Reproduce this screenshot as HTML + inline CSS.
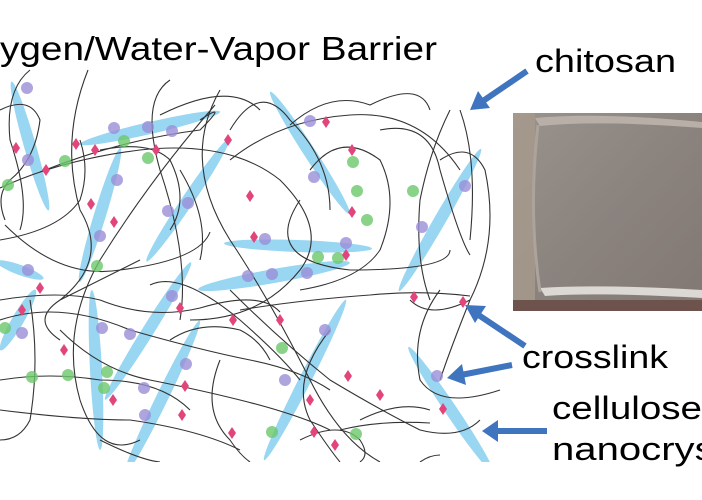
<!DOCTYPE html>
<html><head><meta charset="utf-8"><style>
html,body{margin:0;padding:0;background:#fff;width:702px;height:500px;overflow:hidden}
svg{display:block}
</style></head><body>
<svg width="702" height="500" viewBox="0 0 702 500" xmlns="http://www.w3.org/2000/svg">
<defs>
<linearGradient id="ph" x1="0" y1="0" x2="1" y2="1">
<stop offset="0" stop-color="#9a928c"/><stop offset="0.5" stop-color="#8b837e"/><stop offset="1" stop-color="#817873"/>
</linearGradient>
<clipPath id="cp"><rect x="0" y="60" width="510" height="402"/></clipPath>
<g id="dm"><path d="M0,-6 L4,0 L0,6 L-4,0Z" fill="#e2457c"/></g>
</defs>
<!-- photo -->
<rect x="513" y="113" width="189" height="198" fill="url(#ph)"/>
<rect x="513" y="113" width="22" height="198" fill="#a89a8c" opacity="0.8"/>
<path d="M535,118 Q600,112 702,122 L702,128 Q600,120 540,126Z" fill="#b8b0a8"/>
<path d="M540,288 Q600,284 702,290 L702,298 Q600,292 545,296Z" fill="#dcd8d4"/>
<rect x="513" y="300" width="189" height="11" fill="#6e534c"/>
<path d="M538,125 Q528,210 540,292" stroke="#aca49c" stroke-width="3" fill="none"/>

<g clip-path="url(#cp)">
<!-- cellulose nanocrystals -->
<g fill="#6cc4ec" opacity="0.7">
<ellipse cx="30" cy="146" rx="67" ry="6" transform="rotate(74 30 146)"/>
<ellipse cx="150" cy="128" rx="72" ry="6" transform="rotate(-13 150 128)"/>
<ellipse cx="310" cy="153" rx="73" ry="6" transform="rotate(57 310 153)"/>
<ellipse cx="100" cy="215" rx="70" ry="6" transform="rotate(-73 100 215)"/>
<ellipse cx="188" cy="200" rx="74" ry="6" transform="rotate(-56 188 200)"/>
<ellipse cx="298" cy="246" rx="74" ry="6" transform="rotate(2 298 246)"/>
<ellipse cx="274" cy="276" rx="77" ry="7" transform="rotate(-10 274 276)"/>
<ellipse cx="440" cy="220" rx="82" ry="6" transform="rotate(-60 440 220)"/>
<ellipse cx="20" cy="270" rx="25" ry="5" transform="rotate(20 20 270)"/>
<ellipse cx="96" cy="370" rx="80" ry="6" transform="rotate(87 96 370)"/>
<ellipse cx="148" cy="331" rx="81" ry="6" transform="rotate(-58 148 331)"/>
<ellipse cx="18" cy="320" rx="35" ry="6" transform="rotate(-60 18 320)"/>
<ellipse cx="162" cy="398" rx="86" ry="6" transform="rotate(-64 162 398)"/>
<ellipse cx="305" cy="380" rx="90" ry="6" transform="rotate(-63 305 380)"/>
<ellipse cx="451" cy="410" rx="76" ry="6" transform="rotate(56 451 410)"/>
</g>

<!-- chitosan chains -->
<g stroke="#333" stroke-width="1.1" fill="none">
<path d="M0,110 Q30,95 40,120 Q35,160 10,180 Q-5,195 5,220"/>
<path d="M0,188 Q60,160 140,150 Q230,140 280,180 Q330,230 300,270 Q260,320 190,320"/>
<path d="M30,70 Q5,90 10,140 Q30,200 20,230"/>
<path d="M40,172 Q120,140 200,130 Q230,100 200,120"/>
<path d="M170,80 Q140,100 160,170 Q190,260 180,320"/>
<path d="M88,70 Q60,140 80,210 Q110,260 60,300"/>
<path d="M0,240 Q60,230 80,200 Q90,170 80,140"/>
<path d="M220,90 Q180,160 230,240 Q270,300 310,380 Q340,440 380,462"/>
<path d="M160,115 Q230,80 260,110"/>
<path d="M215,105 Q150,180 100,260 Q60,330 80,400 Q100,460 140,440"/>
<path d="M230,130 Q260,80 290,120 Q330,160 330,210"/>
<path d="M5,225 Q60,280 120,270 Q200,260 210,232"/>
<path d="M230,160 Q280,120 350,115 Q420,110 460,170"/>
<path d="M310,170 Q340,130 380,160 Q400,200 380,250 Q360,280 300,290"/>
<path d="M300,200 Q260,260 350,270 Q450,270 450,250"/>
<path d="M290,125 Q330,90 370,105 Q420,80 430,110"/>
<path d="M380,130 Q430,120 440,170 Q460,240 470,255"/>
<path d="M450,110 Q430,150 420,200 Q415,260 430,300"/>
<path d="M440,160 Q470,140 485,170 Q500,240 470,300 Q450,350 440,380"/>
<path d="M460,110 Q478,160 470,240"/>
<path d="M0,300 Q60,290 100,300 Q150,320 200,308 Q260,290 280,312"/>
<path d="M150,285 Q180,270 240,320 Q280,355 300,380"/>
<path d="M140,260 Q100,280 60,300 Q30,320 60,340"/>
<path d="M0,320 Q60,300 130,330 Q200,350 250,360 Q300,370 330,390"/>
<path d="M60,330 Q100,370 150,380 Q200,390 240,400 Q300,415 330,430"/>
<path d="M0,380 Q50,372 100,380 Q160,380 190,410"/>
<path d="M30,300 Q40,360 30,420 Q20,440 0,440"/>
<path d="M0,410 Q80,420 130,420 Q200,430 240,450"/>
<path d="M240,310 Q300,300 370,295 Q420,290 470,296"/>
<path d="M230,290 Q280,340 330,380 Q380,410 420,430 Q460,440 480,420"/>
<path d="M330,330 Q290,380 310,420 Q330,450 340,462"/>
<path d="M440,290 Q410,330 420,380 Q440,410 500,390"/>
<path d="M300,440 Q340,420 360,440 Q370,455 360,462"/>
<path d="M360,420 Q400,400 430,410"/>
<path d="M410,300 Q430,320 470,300"/>
<path d="M170,340 Q200,320 240,330 Q260,340 270,360"/>
<path d="M220,360 Q200,410 230,440 Q240,455 250,462"/>
<path d="M100,440 Q140,460 160,462"/>
<path d="M180,170 Q210,220 200,260"/>
<path d="M340,430 Q380,420 430,423"/>
<path d="M420,462 Q430,455 440,455"/>
<path d="M100,150 Q150,140 170,160 Q190,200 170,230"/>
</g>

<!-- beads -->
<g fill="#9a8fd8" opacity="0.8">
<circle cx="27" cy="88" r="6"/><circle cx="28" cy="160" r="6"/><circle cx="114" cy="128" r="6"/><circle cx="148" cy="127" r="6"/><circle cx="172" cy="131" r="6"/>
<circle cx="117" cy="180" r="6"/><circle cx="310" cy="121" r="6"/><circle cx="314" cy="177" r="6"/><circle cx="168" cy="211" r="6"/><circle cx="188" cy="203" r="6"/>
<circle cx="100" cy="236" r="6"/><circle cx="265" cy="239" r="6"/><circle cx="346" cy="243" r="6"/><circle cx="248" cy="276" r="6"/><circle cx="272" cy="274" r="6"/>
<circle cx="307" cy="273" r="6"/><circle cx="422" cy="227" r="6"/><circle cx="465" cy="186" r="6"/><circle cx="28" cy="270" r="6"/><circle cx="22" cy="333" r="6"/>
<circle cx="102" cy="328" r="6"/><circle cx="130" cy="334" r="6"/><circle cx="172" cy="296" r="6"/><circle cx="186" cy="364" r="6"/><circle cx="145" cy="415" r="6"/>
<circle cx="285" cy="380" r="6"/><circle cx="325" cy="330" r="6"/><circle cx="437" cy="376" r="6"/><circle cx="144" cy="388" r="6"/>
</g>
<g fill="#6cc86c" opacity="0.8">
<circle cx="8" cy="185" r="6"/><circle cx="65" cy="161" r="6"/><circle cx="124" cy="141" r="6"/><circle cx="148" cy="158" r="6"/><circle cx="97" cy="266" r="6"/>
<circle cx="353" cy="162" r="6"/><circle cx="357" cy="191" r="6"/><circle cx="367" cy="220" r="6"/><circle cx="413" cy="191" r="6"/><circle cx="318" cy="257" r="6"/><circle cx="338" cy="258" r="6"/>
<circle cx="5" cy="328" r="6"/><circle cx="32" cy="377" r="6"/><circle cx="68" cy="375" r="6"/><circle cx="107" cy="372" r="6"/><circle cx="104" cy="388" r="6"/>
<circle cx="282" cy="348" r="6"/><circle cx="272" cy="432" r="6"/><circle cx="356" cy="434" r="6"/>
</g>
<g>
<use href="#dm" x="16" y="148"/><use href="#dm" x="46" y="170"/><use href="#dm" x="76" y="144"/><use href="#dm" x="95" y="150"/><use href="#dm" x="156" y="150"/>
<use href="#dm" x="91" y="204"/><use href="#dm" x="114" y="222"/><use href="#dm" x="228" y="140"/><use href="#dm" x="326" y="122"/><use href="#dm" x="352" y="150"/>
<use href="#dm" x="250" y="196"/><use href="#dm" x="352" y="212"/><use href="#dm" x="254" y="237"/><use href="#dm" x="346" y="255"/><use href="#dm" x="40" y="288"/>
<use href="#dm" x="22" y="310"/><use href="#dm" x="64" y="350"/><use href="#dm" x="180" y="308"/><use href="#dm" x="233" y="320"/><use href="#dm" x="280" y="320"/>
<use href="#dm" x="348" y="376"/><use href="#dm" x="380" y="395"/><use href="#dm" x="414" y="297"/><use href="#dm" x="463" y="302"/><use href="#dm" x="443" y="409"/>
<use href="#dm" x="113" y="400"/><use href="#dm" x="185" y="386"/><use href="#dm" x="182" y="415"/><use href="#dm" x="314" y="432"/><use href="#dm" x="335" y="445"/>
<use href="#dm" x="310" y="400"/><use href="#dm" x="232" y="433"/>
</g>
</g>

<!-- arrows -->
<g stroke="#3f74bf" stroke-width="6" fill="#3f74bf">
<line x1="527" y1="71" x2="483" y2="101"/>
<line x1="525" y1="346" x2="477" y2="314"/>
<line x1="512" y1="365" x2="461" y2="375"/>
<line x1="547" y1="431" x2="496" y2="431"/>
</g>
<g fill="#3f74bf">
<path d="M470,110 L478,91 L490,108Z"/>
<path d="M465,305 L486,306 L475,323Z"/>
<path d="M447,378 L462,364 L466,385Z"/>
<path d="M482,431 L498,420 L498,442Z"/>
</g>

<!-- text -->
<g font-family="'Liberation Sans',sans-serif" fill="#000">
<text x="0" y="60" font-size="33" textLength="437" lengthAdjust="spacingAndGlyphs">ygen/Water-Vapor Barrier</text>
<text x="535" y="72" font-size="32" textLength="141" lengthAdjust="spacingAndGlyphs">chitosan</text>
<text x="522" y="368" font-size="32" textLength="146" lengthAdjust="spacingAndGlyphs">crosslink</text>
<text x="552" y="419" font-size="32" textLength="150" lengthAdjust="spacingAndGlyphs">cellulose</text>
<text x="552" y="460" font-size="32" textLength="225" lengthAdjust="spacingAndGlyphs">nanocrystals</text>
</g>
</svg>
</body></html>
